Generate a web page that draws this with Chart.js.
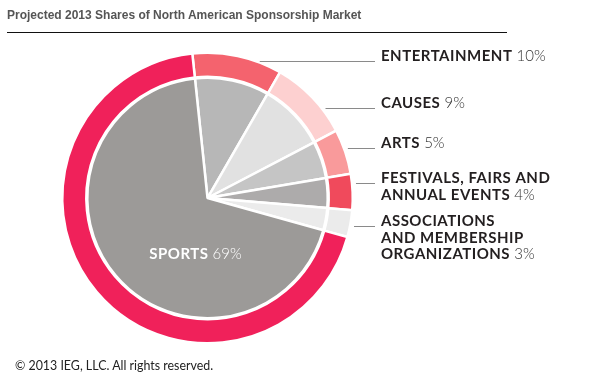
<!DOCTYPE html>
<html>
<head>
<meta charset="utf-8">
<script src="https://cdn.jsdelivr.net/npm/chart.js@4/dist/chart.umd.min.js"></script>
<style>
  html, body { margin: 0; padding: 0; background: #fff; }
  #wrap { position: relative; width: 616px; height: 392px; overflow: hidden; }
  #chartBox { position: absolute; left: 0; top: 0; width: 616px; height: 392px; }
  #title { position: absolute; left: 7px; top: 8px; font: bold 12px "Liberation Sans", Arial, sans-serif; color: #555; white-space: nowrap; line-height: 15px; }
  #rule { position: absolute; left: 7px; top: 32px; width: 500px; height: 1px; background: #111; }
  #footer { position: absolute; left: 15px; top: 358px; font: 12.4px Lato, "Noto Sans", sans-serif; color: #222; white-space: nowrap; line-height: 15px; }
</style>
</head>
<body>
<div id="wrap">
  <div id="chartBox"><canvas id="c"></canvas></div>
  <div id="title">Projected 2013 Shares of North American Sponsorship Market</div>
  <div id="rule"></div>
  <div id="footer">© 2013 IEG, LLC. All rights reserved.</div>
</div>
<script>
// ---- data ----
const categories = ['ENTERTAINMENT', 'CAUSES', 'ARTS', ['FESTIVALS, FAIRS AND', 'ANNUAL EVENTS'], ['ASSOCIATIONS', 'AND MEMBERSHIP', 'ORGANIZATIONS'], 'SPORTS'];
const shares = [10, 9, 5, 4, 3, 69];
const shareLabels = ['10%', '9%', '5%', '4%', '3%', '69%'];
const ringColors = ['#f4636e', '#fdd0d0', '#f99a9b', '#f04a5c', '#ebebeb', '#f0215a'];
const pieColors = ['#b7b7b7', '#e1e1e1', '#c5c5c5', '#adabab', '#ebebeb', '#9c9a98'];

// ---- label layout (hand placed like the original) ----
const labelLineY = [61, 108, 148, 183, 226];
const labelX = 381;
const lineEndX = 375;
const lineHeight = 16.5;

const labelPlugin = {
  id: 'sideLabels',
  afterDraw(chart) {
    const ctx = chart.ctx;
    const arc = chart.getDatasetMeta(0).data[0];
    const cx = arc.x, cy = arc.y, R = arc.outerRadius;
    ctx.save();
    ctx.textBaseline = 'alphabetic';
    const bold = 'bold 15px Lato, "Noto Sans", sans-serif';
    const light = '300 15px Lato, "Noto Sans", sans-serif';
    for (let i = 0; i < categories.length - 1; i++) {
      const y = labelLineY[i];
      const dy = y - cy;
      const startX = cx + Math.sqrt(Math.max(R * R - dy * dy, 0)) + 4;
      ctx.strokeStyle = '#8a8a8a';
      ctx.lineWidth = 1;
      ctx.beginPath();
      ctx.moveTo(startX, y + 0.5);
      ctx.lineTo(lineEndX, y + 0.5);
      ctx.stroke();
      const lines = Array.isArray(categories[i]) ? categories[i] : [categories[i]];
      lines.forEach((t, k) => {
        const by = y + k * lineHeight;
        ctx.font = bold;
        ctx.letterSpacing = '0.5px';
        ctx.fillStyle = '#231f20';
        ctx.fillText(t, labelX, by);
        if (k === lines.length - 1) {
          const w = ctx.measureText(t + ' ').width;
          ctx.font = light;
          ctx.letterSpacing = '0px';
          ctx.fillStyle = '#333';
          ctx.fillText(shareLabels[i], labelX + w, by);
        }
      });
    }
    // sports label inside slice
    const si = categories.length - 1;
    ctx.font = bold;
    ctx.letterSpacing = '0.5px';
    const w1 = ctx.measureText(categories[si] + ' ').width;
    ctx.font = light;
    ctx.letterSpacing = '0px';
    const w2 = ctx.measureText(shareLabels[si]).width;
    const sx = cx - 12 - (w1 + w2) / 2;
    const sy = cy + 61;
    ctx.fillStyle = '#ffffff';
    ctx.font = bold;
    ctx.letterSpacing = '0.5px';
    ctx.fillText(categories[si], sx, sy);
    ctx.font = light;
    ctx.letterSpacing = '0px';
    ctx.fillText(shareLabels[si], sx + w1, sy);
    ctx.restore();
  }
};

new Chart(document.getElementById('c'), {
  type: 'doughnut',
  data: {
    labels: categories,
    datasets: [
      { data: shares, backgroundColor: ringColors, borderColor: '#fff', borderWidth: 2.5, weight: 24 },
      { data: shares, backgroundColor: 'rgba(0,0,0,0)', borderWidth: 0, weight: 1 },
      { data: shares, backgroundColor: pieColors, borderColor: '#fff', borderWidth: 2.5, weight: 120 }
    ]
  },
  options: {
    responsive: true,
    maintainAspectRatio: false,
    animation: false,
    cutout: 0,
    rotation: -6,
    layout: { padding: { left: 61, right: 262, top: 51, bottom: 47 } },
    plugins: { legend: { display: false }, tooltip: { enabled: false }, title: { display: false } }
  },
  plugins: [labelPlugin]
});
</script>
</body>
</html>
